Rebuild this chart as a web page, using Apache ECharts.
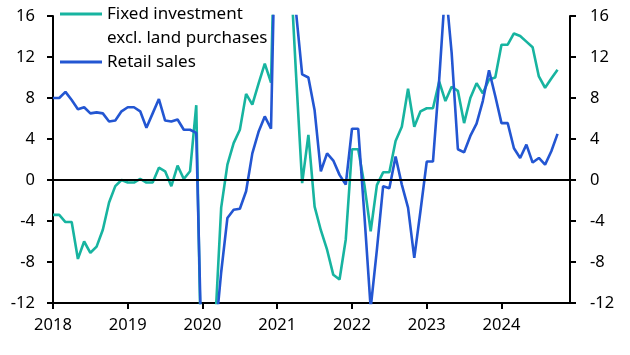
<!DOCTYPE html>
<html>
<head>
<meta charset="utf-8">
<script src="https://cdn.jsdelivr.net/npm/echarts@6/dist/echarts.min.js"></script>
<style>
html,body{margin:0;padding:0;background:#fff;}
#chart{width:630px;height:355px;}
</style>
</head>
<body>
<div id="chart"></div>
<script>
// Monthly observations, Jan 2018 – Oct 2024 (% y/y)
var years = ['2018','2019','2020','2021','2022','2023','2024'];
var seriesNames = ['Fixed investment', 'Retail sales'];
var legendSecondLine = 'excl. land purchases';
var yTicks = [-12, -8, -4, 0, 4, 8, 12, 16];

var fixedInvestment = [
  -3.4, -3.4, -4.1, -4.1, -7.7, -6.0, -7.1, -6.5, -4.85, -2.2, -0.6, 0.0,
  -0.25, -0.25, 0.1, -0.25, -0.25, 1.2, 0.85, -0.6, 1.4, 0.1, 0.85, 7.3,
  -25, -25, -14.5, -2.7, 1.5, 3.6, 4.9, 8.4, 7.35, 9.4, 11.35, 9.5,
  35, 35, 22, 10.5, -0.3, 4.4, -2.6, -4.9, -6.8, -9.25, -9.7, -5.8,
  3.0, 3.0, -0.5, -5.0, -0.5, 0.75, 0.75, 3.8, 5.2, 8.9, 5.2, 6.7,
  7.0, 7.0, 9.6, 7.7, 9.1, 8.7, 5.55, 8.0, 9.45, 8.45, 9.8, 10.0,
  13.2, 13.2, 14.3, 14.05, 13.5, 12.95, 10.1, 9.0, 9.9, 10.75
];
var retailSales = [
  8.0, 8.0, 8.6, 7.8, 6.9, 7.1, 6.5, 6.6, 6.5, 5.7, 5.8, 6.7,
  7.1, 7.1, 6.7, 5.1, 6.5, 7.9, 5.8, 5.7, 5.9, 4.9, 4.9, 4.6,
  -20.5, -20.5, -15.5, -9.0, -3.7, -2.9, -2.8, -1.1, 2.6, 4.7, 6.2, 5.0,
  34, 34, 34, 16.5, 10.3, 10.0, 6.8, 0.85, 2.6, 1.9, 0.5, -0.45,
  5.0, 5.0, -3.5, -12.5, -6.8, -0.6, -0.8, 2.3, -0.45, -2.7, -7.6, -3.0,
  1.8, 1.8, 9.8, 19, 12.4, 3.0, 2.7, 4.3, 5.5, 7.7, 10.7, 8.2,
  5.55, 5.55, 3.1, 2.15, 3.45, 1.7, 2.15, 1.5, 2.8, 4.5
];

// month categories Jan 2018 .. Dec 2024
var months = [];
years.forEach(function (y) {
  for (var m = 1; m <= 12; m++) months.push(y + '-' + (m < 10 ? '0' + m : m));
});

var TEAL = '#17b4a0';
var BLUE = '#2356d2';
var FONT = 'Noto Sans';
var txt = { color: '#000', fontFamily: FONT, fontSize: 16.5 };
var legTxt = { color: '#000', fontFamily: FONT, fontSize: 17 };

var chart = echarts.init(document.getElementById('chart'), null, { renderer: 'canvas' });

function yAxisCfg(pos, margin) {
  return {
    type: 'value', position: pos, min: yTicks[0], max: yTicks[yTicks.length - 1], interval: 4,
    axisLine: { show: true, onZero: false, lineStyle: { color: '#000', width: 2 } },
    axisTick: { show: true, inside: false, length: 6, lineStyle: { color: '#000', width: 2 } },
    axisLabel: Object.assign({ margin: margin }, txt),
    splitLine: { show: false }
  };
}

chart.setOption({
  animation: false,
  backgroundColor: '#fff',
  grid: { left: 53, right: 60, top: 16, bottom: 52, containLabel: false },
  legend: {
    orient: 'vertical', left: 55, top: -1,
    icon: 'rect', itemWidth: 42, itemHeight: 3, itemGap: 28,
    textStyle: Object.assign({ lineHeight: 20 }, legTxt),
    data: seriesNames
  },
  graphic: [{
    type: 'text', left: 107, top: 30,
    style: { text: legendSecondLine, fill: '#000', font: '17px "Noto Sans"' }
  }],
  xAxis: {
    type: 'category', data: months, boundaryGap: false,
    axisLine: { onZero: false, lineStyle: { color: '#000', width: 2 } },
    axisTick: { show: true, length: 6, interval: function (i) { return i % 12 === 0; }, lineStyle: { color: '#000', width: 2 } },
    axisLabel: Object.assign({
      margin: 14,
      interval: function (i) { return i % 12 === 0; },
      formatter: function (v) { return v.slice(0, 4); }
    }, txt),
    splitLine: { show: false }
  },
  yAxis: [yAxisCfg('left', 18), yAxisCfg('right', 20)],
  series: [
    {
      name: seriesNames[0], type: 'line', data: fixedInvestment, yAxisIndex: 0,
      symbol: 'none', showSymbol: false, clip: true,
      lineStyle: { color: TEAL, width: 2.6 }, itemStyle: { color: TEAL },
      z: 3
    },
    {
      name: seriesNames[1], type: 'line', data: retailSales, yAxisIndex: 0,
      symbol: 'none', showSymbol: false, clip: true,
      lineStyle: { color: BLUE, width: 2.6 }, itemStyle: { color: BLUE },
      z: 4,
      markLine: {
        silent: true, symbol: ['none', 'none'], label: { show: false },
        lineStyle: { color: '#000', width: 2, type: 'solid' },
        data: [{ yAxis: 0 }]
      }
    }
  ]
});
</script>
</body>
</html>
